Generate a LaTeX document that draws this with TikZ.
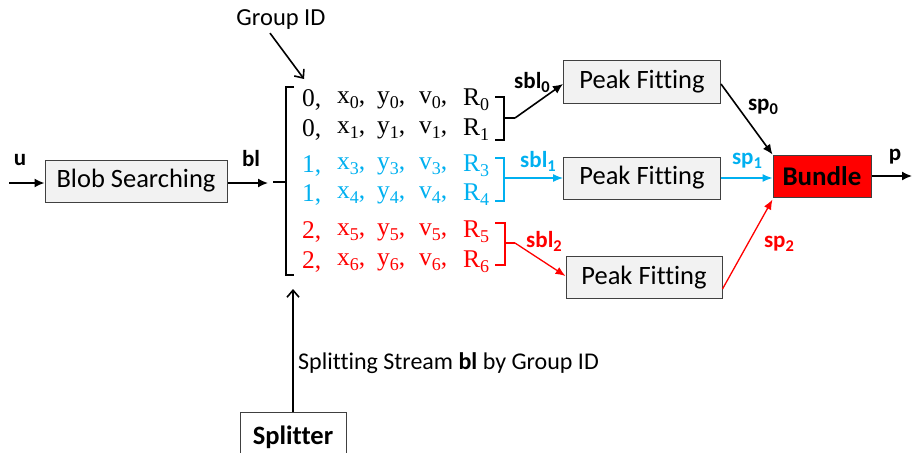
\documentclass[tikz,border=0pt]{standalone}
\usepackage{fontspec}
\setmainfont[Ligatures=NoCommon]{Carlito}
\newfontfamily\rowfont{Liberation Serif}
\usetikzlibrary{arrows.meta}
\definecolor{cyanb}{RGB}{0,176,240}
\definecolor{boxgray}{RGB}{242,242,242}
\newcommand\rsub[1]{\raisebox{-5pt}{\fontsize{18}{18}\selectfont #1}}
\newcommand\lsub[1]{\raisebox{-4pt}{\fontsize{16.5}{17}\selectfont #1}}
\tikzset{
  procbox/.style={draw=black!75, line width=1pt, fill=boxgray, minimum height=42pt, inner sep=0pt, font=\fontsize{26.5}{30}\selectfont},
  lbl/.style={font=\fontsize{23}{26}\selectfont\bfseries, inner sep=0pt},
  rowtxt/.style={font=\fontsize{25.5}{28}\selectfont\rowfont, anchor=west, inner sep=0pt},
  arr/.style={line width=1.6pt, -{Latex[length=10pt,width=9pt]}},
  thinarr/.style={line width=1.3pt, -{Latex[length=10pt,width=8pt]}},
  openarr/.style={line width=1.6pt, -{Straight Barb[length=7pt,width=12pt,line width=1.6pt]}},
  brk/.style={line width=1.6pt},
}
\begin{document}
\begin{tikzpicture}[x=1pt,y=-1pt]
\useasboundingbox (0,0) rectangle (912,452);
\clip (0,0) rectangle (912,452);

% boxes
\node[procbox, minimum width=182pt] (blob) at (136,181) {Blob Searching};
\node[procbox, minimum width=157pt] (pf0) at (642,82) {Peak Fitting};
\node[procbox, minimum width=157pt] (pf1) at (642,178) {Peak Fitting};
\node[procbox, minimum width=156pt] (pf2) at (644,277.5) {Peak Fitting};
\node[draw=black!75, line width=1pt, fill=red, minimum width=98pt, minimum height=42pt, inner sep=0pt, font=\fontsize{27}{30}\selectfont\bfseries] (bundle) at (822,176) {Bundle};
\node[procbox, fill=white, minimum width=106pt, minimum height=50pt, font=\fontsize{26.5}{30}\selectfont\bfseries] (split) at (293,437) {Splitter};

% input / output
\coordinate (uin) at (9,183);
\coordinate (pout) at (912,176);
\coordinate (blend) at (268,183);
\draw[arr] (uin) -- (blob.west |- uin);
\node[lbl] (ul) at (20,160) {u};
\draw[arr] (blob.east |- blend) -- (blend);
\node[lbl] (bll) at (251,159) {bl};
\draw[arr] (bundle.east) -- (pout);
\node[lbl] (pl) at (895,157) {p};

% big brace
\draw[brk] (294,87) -- (286,87) -- (286,182) -- (273,182);
\draw[brk] (286,182) -- (286,275) -- (294,275);

% rows
\foreach \y/\g/\a/\c in {100/0/0/black, 130/0/1/black, 166/1/3/cyanb, 195/1/4/cyanb, 232/2/5/red, 262/2/6/red}{
  \node[rowtxt, text=\c] at (302,\y) {\g,};
  \node[rowtxt, text=\c] at (337,\y) {x\rsub{\a},};
  \node[rowtxt, text=\c] at (377,\y) {y\rsub{\a},};
  \node[rowtxt, text=\c] at (419,\y) {v\rsub{\a},};
  \node[rowtxt, text=\c] at (463,\y) {R\rsub{\a}};
}

% small brackets
\coordinate (t0) at (515,118);
\coordinate (t1) at (515,178);
\coordinate (t2) at (515,243);
\draw[brk] (495,97) -- (504,97) -- (504,140) -- (495,140);
\draw[brk] (504,118) -- (t0);
\draw[brk, cyanb] (495,158) -- (504,158) -- (504,201) -- (495,201);
\draw[brk, cyanb] (504,178) -- (t1);
\draw[brk, red] (495,223) -- (505,223) -- (505,265) -- (495,265);
\draw[brk, red] (505,243) -- (t2);

% split arrows
\draw[arr] (t0) -- (pf0.west |- 0,84);
\draw[thinarr, cyanb] (t1) -- (pf1.west);
\draw[thinarr, red] (t2) -- (pf2.west |- 0,276);
\node[lbl] (s0) at (532,82) {sbl\lsub{0}};
\node[lbl, text=cyanb] (s1) at (538,161) {sbl\lsub{1}};
\node[lbl, text=red] (s2) at (544,241) {sbl\lsub{2}};

% merge arrows
\draw[arr] (pf0.east |- 0,84) -- (bundle.north west);
\draw[thinarr, cyanb] (pf1.east) -- (bundle.west |- pf1.east);
\draw[thinarr, red] (pf2.east |- 0,289) -- ([yshift=-2pt]bundle.south west);
\node[lbl] (sp0) at (763,107) {sp\lsub{0}};
\node[lbl, text=cyanb] (sp1) at (747,161) {sp\lsub{1}};
\node[lbl, text=red] (sp2) at (779,244) {sp\lsub{2}};

% group id
\node[font=\fontsize{24.5}{28}\selectfont, inner sep=0pt] (gid) at (281,20) {Group ID};
\coordinate (gidend) at (304,79);
\draw[openarr] (gid.south -| 270,0) ++(0,3) -- (gidend);

% splitter
\coordinate (splend) at (293,289);
\draw[openarr] (split.north) -- (splend);
\node[font=\fontsize{24}{28}\selectfont, inner sep=0pt, anchor=west] (stxt) at (298,363) {Splitting Stream \textbf{bl} by Group ID};
\end{tikzpicture}
\end{document}
